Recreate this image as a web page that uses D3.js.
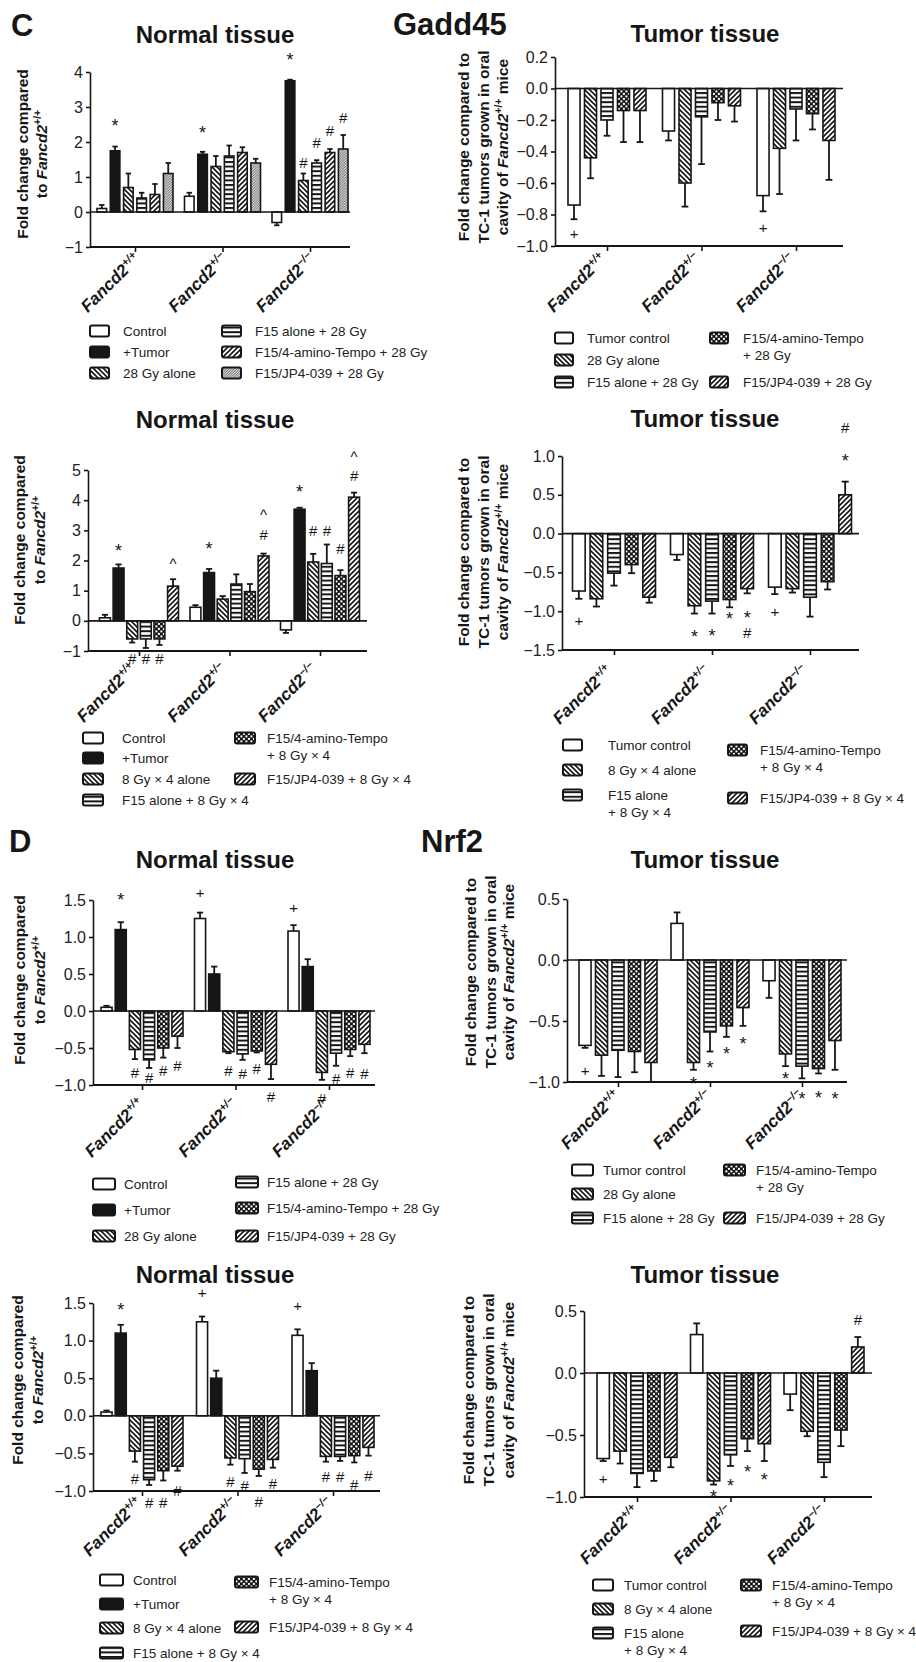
<!DOCTYPE html>
<meta charset="utf-8">
<style>
body { margin:0; background:#fff; }
text { font-family: "Liberation Sans", Arial, sans-serif; fill:#161616; }
.hdr { font-weight:bold; font-size:31px; }
.title { font-weight:bold; font-size:24px; }
.tick text { font-size:16px; fill:#222; }
.tick line, .domain { stroke:#161616; stroke-width:1.6px; }
.ytitle { font-weight:bold; font-size:15.5px; }
.xlab { font-weight:bold; font-style:italic; font-size:17px; }
.leg { font-size:13.5px; fill:#222; }
.ann { font-size:15px; }
</style>
<body>
<svg id="fig" width="916" height="1662"></svg>
<script src="https://cdn.jsdelivr.net/npm/d3@7"></script>
<script>
var genotypes = ["+/+", "+/\u2212", "\u2212/\u2212"];

var normal28Series = ["Control", "+Tumor", "28 Gy alone", "F15 alone + 28 Gy", "F15/4-amino-Tempo + 28 Gy", "F15/JP4-039 + 28 Gy"];
var tumor28Series = ["Tumor control", "28 Gy alone", "F15 alone + 28 Gy", "F15/4-amino-Tempo + 28 Gy", "F15/JP4-039 + 28 Gy"];
var normalFxSeries = ["Control", "+Tumor", "8 Gy \u00d7 4 alone", "F15 alone + 8 Gy \u00d7 4", "F15/4-amino-Tempo + 8 Gy \u00d7 4", "F15/JP4-039 + 8 Gy \u00d7 4"];
var tumorFxSeries = ["Tumor control", "8 Gy \u00d7 4 alone", "F15 alone + 8 Gy \u00d7 4", "F15/4-amino-Tempo + 8 Gy \u00d7 4", "F15/JP4-039 + 8 Gy \u00d7 4"];

// legend wording (line breaks as printed)
var legTumor28 = ["Tumor control", "28 Gy alone", "F15 alone + 28 Gy", "F15/4-amino-Tempo\n+ 28 Gy", "F15/JP4-039 + 28 Gy"];
var legNormalFx = ["Control", "+Tumor", "8 Gy \u00d7 4 alone", "F15 alone + 8 Gy \u00d7 4", "F15/4-amino-Tempo\n+ 8 Gy \u00d7 4", "F15/JP4-039 + 8 Gy \u00d7 4"];
var legTumorFx = ["Tumor control", "8 Gy \u00d7 4 alone", "F15 alone\n+ 8 Gy \u00d7 4", "F15/4-amino-Tempo\n+ 8 Gy \u00d7 4", "F15/JP4-039 + 8 Gy \u00d7 4"];

// ---- Gadd45 ----
var gaddNormal28Mean = [[0.1, 1.75, 0.7, 0.4, 0.5, 1.1], [0.45, 1.65, 1.3, 1.6, 1.7, 1.4], [-0.3, 3.75, 0.9, 1.4, 1.7, 1.8]];
var gaddNormal28Err = [[0.1, 0.12, 0.4, 0.15, 0.3, 0.3], [0.1, 0.07, 0.3, 0.3, 0.15, 0.12], [0.08, 0.03, 0.2, 0.08, 0.1, 0.4]];
var gaddNormal28Ann = [[0, 1, 2.6, "*"], [1, 1, 2.4, "*"], [2, 1, 4.5, "*"], [2, 2, 1.4, "#"], [2, 3, 1.97, "#"], [2, 4, 2.34, "#"], [2, 5, 2.7, "#"]];

var gaddTumor28Mean = [[-0.74, -0.44, -0.2, -0.14, -0.14], [-0.27, -0.6, -0.18, -0.09, -0.11], [-0.68, -0.38, -0.13, -0.16, -0.33]];
var gaddTumor28Err = [[0.09, 0.13, 0.1, 0.2, 0.2], [0.06, 0.15, 0.3, 0.11, 0.1], [0.1, 0.29, 0.2, 0.1, 0.25]];
var gaddTumor28Ann = [[0, 0, -0.92, "+"], [2, 0, -0.88, "+"]];

var gaddNormalFxMean = [[0.1, 1.75, -0.6, -0.6, -0.6, 1.15], [0.45, 1.6, 0.72, 1.22, 0.97, 2.15], [-0.3, 3.7, 1.95, 1.9, 1.5, 4.1]];
var gaddNormalFxErr = [[0.1, 0.12, 0.12, 0.3, 0.2, 0.23], [0.07, 0.12, 0.1, 0.32, 0.25, 0.08], [0.1, 0.05, 0.27, 0.63, 0.18, 0.15]];
var gaddNormalFxAnn = [[0, 1, 2.5, "*"], [0, 2, -1.25, "#"], [0, 3, -1.25, "#"], [0, 4, -1.25, "#"], [0, 5, 2.0, "^"],
  [1, 1, 2.55, "*"], [1, 5, 2.85, "#"], [1, 5, 3.6, "^"],
  [2, 1, 4.45, "*"], [2, 2, 3.0, "#"], [2, 3, 3.0, "#"], [2, 4, 2.4, "#"], [2, 5, 4.8, "#"], [2, 5, 5.55, "^"]];

var gaddTumorFxMean = [[-0.74, -0.84, -0.51, -0.4, -0.82], [-0.27, -0.93, -0.87, -0.85, -0.71], [-0.69, -0.71, -0.82, -0.62, 0.5]];
var gaddTumorFxErr = [[0.1, 0.1, 0.16, 0.11, 0.07], [0.07, 0.1, 0.16, 0.1, 0.06], [0.09, 0.05, 0.25, 0.1, 0.17]];
var gaddTumorFxAnn = [[0, 0, -1.12, "+"], [1, 1, -1.27, "*"], [1, 2, -1.25, "*"], [1, 3, -1.03, "*"], [1, 4, -1.02, "*"], [1, 4, -1.27, "#"],
  [2, 0, -1.0, "+"], [2, 4, 1.0, "*"], [2, 4, 1.37, "#"]];

// ---- Nrf2 ----
var nrfNormal28Mean = [[0.05, 1.1, -0.52, -0.66, -0.5, -0.34], [1.25, 0.5, -0.55, -0.58, -0.54, -0.72], [1.08, 0.6, -0.83, -0.57, -0.52, -0.45]];
var nrfNormal28Err = [[0.02, 0.1, 0.13, 0.11, 0.13, 0.16], [0.08, 0.1, 0.02, 0.08, 0.02, 0.2], [0.08, 0.1, 0.1, 0.17, 0.09, 0.12]];
var nrfNormal28Ann = [[0, 1, 1.57, "*"], [0, 2, -0.83, "#"], [0, 3, -0.9, "#"], [0, 4, -0.8, "#"], [0, 5, -0.74, "#"],
  [1, 0, 1.6, "+"], [1, 2, -0.8, "#"], [1, 3, -0.84, "#"], [1, 4, -0.78, "#"], [1, 5, -1.16, "#"],
  [2, 0, 1.4, "+"], [2, 2, -1.19, "#"], [2, 3, -0.91, "#"], [2, 4, -0.83, "#"], [2, 5, -0.84, "#"]];

var nrfTumor28Mean = [[-0.7, -0.78, -0.74, -0.75, -0.84], [0.3, -0.84, -0.59, -0.54, -0.39], [-0.17, -0.77, -0.87, -0.89, -0.66]];
var nrfTumor28Err = [[0.02, 0.17, 0.22, 0.17, 0.16], [0.09, 0.06, 0.16, 0.09, 0.15], [0.14, 0.1, 0.1, 0.04, 0.24]];
var nrfTumor28Ann = [[0, 0, -0.91, "+"], [1, 1, -0.97, "*"], [1, 2, -0.84, "*"], [1, 3, -0.73, "*"], [1, 4, -0.65, "*"],
  [2, 1, -0.93, "*"], [2, 2, -1.1, "*"], [2, 3, -1.09, "*"], [2, 4, -1.1, "*"]];

var nrfNormalFxMean = [[0.05, 1.1, -0.47, -0.85, -0.73, -0.67], [1.25, 0.5, -0.56, -0.57, -0.71, -0.58], [1.07, 0.6, -0.54, -0.54, -0.53, -0.42]];
var nrfNormalFxErr = [[0.02, 0.11, 0.14, 0.07, 0.13, 0.06], [0.07, 0.1, 0.09, 0.19, 0.09, 0.11], [0.08, 0.1, 0.07, 0.06, 0.09, 0.11]];
var nrfNormalFxAnn = [[0, 1, 1.48, "*"], [0, 2, -0.84, "#"], [0, 3, -1.16, "#"], [0, 4, -1.16, "#"], [0, 5, -1.0, "#"],
  [1, 0, 1.64, "+"], [1, 2, -0.88, "#"], [1, 3, -0.93, "#"], [1, 4, -1.14, "#"], [1, 5, -0.9, "#"],
  [2, 0, 1.46, "+"], [2, 2, -0.81, "#"], [2, 3, -0.81, "#"], [2, 4, -0.91, "#"], [2, 5, -0.79, "#"]];

var nrfTumorFxMean = [[-0.69, -0.63, -0.81, -0.79, -0.68], [0.31, -0.87, -0.66, -0.53, -0.57], [-0.17, -0.47, -0.72, -0.46, 0.21]];
var nrfTumorFxErr = [[0.02, 0.1, 0.11, 0.08, 0.08], [0.09, 0.03, 0.09, 0.1, 0.14], [0.13, 0.04, 0.12, 0.13, 0.08]];
var nrfTumorFxAnn = [[0, 0, -0.85, "+"], [1, 1, -0.96, "*"], [1, 2, -0.87, "*"], [1, 3, -0.76, "*"], [1, 4, -0.82, "*"], [2, 4, 0.43, "#"]];

var ticksA = [-1, 0, 1, 2, 3, 4];
var ticksB = [-1, -0.8, -0.6, -0.4, -0.2, 0, 0.2];
var ticksC = [-1, 0, 1, 2, 3, 4, 5];
var ticksD = [-1.5, -1, -0.5, 0, 0.5, 1];
var ticksE = [-1, -0.5, 0, 0.5, 1, 1.5];
var ticksF = [-1, -0.5, 0, 0.5];

var svg = d3.select("#fig");
var defs = svg.append("defs");

function pat(id, w, h, draw) {
  var p = defs.append("pattern").attr("id", id)
    .attr("patternUnits", "userSpaceOnUse").attr("width", w).attr("height", h);
  p.append("rect").attr("width", w).attr("height", h).attr("fill", "#fff");
  draw(p);
}
pat("back", 5, 5, function(p) {
  p.append("path").attr("d", "M-1,-1L6,6M-1,4L1,6M4,-1L6,1").attr("stroke", "#161616").attr("stroke-width", 1.6);
});
pat("fwd", 5, 5, function(p) {
  p.append("path").attr("d", "M-1,6L6,-1M-1,1L1,-1M4,6L6,4").attr("stroke", "#161616").attr("stroke-width", 1.6);
});
pat("horiz", 5, 4.6, function(p) {
  p.append("rect").attr("width", 5).attr("height", 2).attr("fill", "#161616");
});
pat("check", 5, 5, function(p) {
  p.append("rect").attr("width", 5).attr("height", 5).attr("fill", "#161616");
  p.append("rect").attr("x", 0.4).attr("y", 0.4).attr("width", 2).attr("height", 2).attr("fill", "#fff");
  p.append("rect").attr("x", 2.9).attr("y", 2.9).attr("width", 2).attr("height", 2).attr("fill", "#fff");
});
pat("fine", 2.6, 2.6, function(p) {
  p.append("path").attr("d", "M-1,3.6L3.6,-1M-1,1L1,-1M1.6,3.6L3.6,1.6").attr("stroke", "#555").attr("stroke-width", 0.9);
});

function fillOf(f) {
  if (f == "white") return "#fff";
  if (f == "black") return "#161616";
  return "url(#" + f + ")";
}

// pieces: [text, kind] with kind "" | "i" | "s" (superscript)
function richText(sel, pieces, supSize) {
  var back = 0;
  pieces.forEach(function(pc) {
    var t = sel.append("tspan").text(pc[0]);
    if (pc[1] == "i") t.style("font-style", "italic");
    if (pc[1] == "s") { t.attr("dy", -6).style("font-size", supSize + "px"); back = 6; }
    else if (back) { t.attr("dy", back); back = 0; }
  });
}

var fmtInt = d3.format("d"), fmt1 = d3.format(".1f");

function drawPanel(p) {
  var g = svg.append("g");
  var y = d3.scaleLinear().domain(p.domain).range(p.yRange);
  var x0 = d3.scalePoint().domain(genotypes).range(p.centers);
  var x1 = d3.scaleBand().domain(p.series).range([-p.groupW / 2, p.groupW / 2]).paddingInner(p.pad);
  var bw = x1.bandwidth();
  var yBase = y(p.domain[0]);

  var rows = [];
  p.mean.forEach(function(r, gi) {
    r.forEach(function(v, si) {
      rows.push({ g: genotypes[gi], s: p.series[si], v: v, e: p.err[gi][si], f: p.fills[si] });
    });
  });
  function tip(d) { return y(d.v + (d.v < 0 ? -d.e : d.e)); }

  // error bars (one-sided, away from zero)
  var eb = g.selectAll(".eb").data(rows).enter().append("g").attr("class", "eb")
    .attr("stroke", "#161616").attr("stroke-width", 1.8);
  eb.append("line")
    .attr("x1", function(d) { return x0(d.g) + x1(d.s) + bw / 2; })
    .attr("x2", function(d) { return x0(d.g) + x1(d.s) + bw / 2; })
    .attr("y1", function(d) { return y(d.v); })
    .attr("y2", tip);
  eb.append("line")
    .attr("x1", function(d) { return x0(d.g) + x1(d.s) + bw * 0.22; })
    .attr("x2", function(d) { return x0(d.g) + x1(d.s) + bw * 0.78; })
    .attr("y1", tip)
    .attr("y2", tip);

  g.selectAll(".bar").data(rows).enter().append("rect").attr("class", "bar")
    .attr("x", function(d) { return x0(d.g) + x1(d.s); })
    .attr("width", bw)
    .attr("y", function(d) { return y(Math.max(0, d.v)); })
    .attr("height", function(d) { return Math.abs(y(d.v) - y(0)); })
    .attr("fill", function(d) { return fillOf(d.f); })
    .attr("stroke", "#161616").attr("stroke-width", 1.6);

  // zero line and x axis
  g.append("line").attr("x1", p.left).attr("x2", p.right).attr("y1", y(0)).attr("y2", y(0))
    .attr("stroke", "#161616").attr("stroke-width", 1.6);
  g.append("line").attr("x1", p.left).attr("x2", p.right).attr("y1", yBase).attr("y2", yBase)
    .attr("stroke", "#161616").attr("stroke-width", 1.8);
  g.append("g").attr("transform", "translate(0," + yBase + ")")
    .call(d3.axisBottom(x0).tickSize(5).tickFormat(""))
    .select(".domain").remove();

  g.append("g").attr("transform", "translate(" + p.left + ",0)")
    .call(d3.axisLeft(y).tickValues(p.ticks).tickFormat(p.fmt).tickSize(4).tickSizeOuter(0).tickPadding(3));

  // significance marks
  g.selectAll(".ann").data(p.ann).enter().append("text").attr("class", "ann")
    .attr("text-anchor", "middle")
    .attr("x", function(d) { return x0(genotypes[d[0]]) + x1(p.series[d[1]]) + bw / 2; })
    .attr("y", function(d) { return y(d[2]); })
    .attr("dy", function(d) { return d[3] == "*" ? "0.62em" : d[3] == "^" ? "0.55em" : "0.36em"; })
    .style("font-size", function(d) { return d[3] == "*" ? "18px" : "15px"; })
    .text(function(d) { return d[3]; });

  // rotated genotype labels
  genotypes.forEach(function(gt) {
    var t = g.append("text").attr("class", "xlab").attr("text-anchor", "end")
      .attr("transform", "translate(" + (x0(gt) + p.lab[0]) + "," + (yBase + p.lab[1]) + ") rotate(-45)");
    richText(t, [["Fancd2", ""], [gt, "s"]], 11);
  });

  g.append("text").attr("class", "title").attr("text-anchor", "middle")
    .attr("x", p.titleX).attr("y", p.titleY).text(p.title);

  p.yTitle.forEach(function(line, i) {
    var t = g.append("text").attr("class", "ytitle").attr("text-anchor", "middle")
      .attr("transform", "translate(" + (p.yTitleX[i] + 5.5) + "," + p.yTitleCY + ") rotate(-90)");
    richText(t, line, 10.5);
  });

  // legend
  p.legend.forEach(function(it, i) {
    var sx = p.legCols[it[0]][0], tx = p.legCols[it[0]][1], ry = it[1];
    g.append("rect").attr("x", sx).attr("y", ry - 5.5).attr("width", p.swW).attr("height", 11).attr("rx", 2)
      .attr("fill", fillOf(p.fills[i])).attr("stroke", "#161616").attr("stroke-width", 2);
    p.legText[i].split("\n").forEach(function(s, k) {
      g.append("text").attr("class", "leg").attr("x", tx).attr("y", ry + 5 + k * 16.5).text(s);
    });
  });
}

var fillsN28 = ["white", "black", "back", "horiz", "fwd", "fine"];
var fillsN = ["white", "black", "back", "horiz", "check", "fwd"];
var fillsT = ["white", "back", "horiz", "check", "fwd"];
var yNormal = [[["Fold change compared", ""]], [["to ", ""], ["Fancd2", "i"], ["+/+", "s"]]];
var yTumor = [[["Fold change compared to", ""]], [["TC-1 tumors grown in oral", ""]],
  [["cavity of ", ""], ["Fancd2", "i"], ["+/+", "s"], [" mice", ""]]];

var panels = [
  { series: normal28Series, mean: gaddNormal28Mean, err: gaddNormal28Err, ann: gaddNormal28Ann, fills: fillsN28,
    domain: [-1, 4], yRange: [247, 72], ticks: ticksA, fmt: fmtInt, left: 90, right: 350,
    centers: [135, 310], groupW: 76, pad: 0.28, lab: [6, 13], title: "Normal tissue", titleX: 215, titleY: 43,
    yTitle: yNormal, yTitleX: [22, 41], yTitleCY: 154,
    legText: normal28Series, legCols: [[90, 123], [222, 255]], swW: 19,
    legend: [[0, 331], [0, 352], [0, 373], [1, 331], [1, 352], [1, 373]] },
  { series: tumor28Series, mean: gaddTumor28Mean, err: gaddTumor28Err, ann: gaddTumor28Ann, fills: fillsT,
    domain: [-1, 0.2], yRange: [246, 57], ticks: ticksB, fmt: fmt1, left: 555, right: 843,
    centers: [607, 796], groupW: 78, pad: 0.27, lab: [0, 14], title: "Tumor tissue", titleX: 705, titleY: 42,
    yTitle: yTumor, yTitleX: [463, 483, 502], yTitleCY: 147,
    legText: legTumor28, legCols: [[555, 587], [710, 743]], swW: 18,
    legend: [[0, 338], [0, 360], [0, 382], [1, 338], [1, 382]] },
  { series: normalFxSeries, mean: gaddNormalFxMean, err: gaddNormalFxErr, ann: gaddNormalFxAnn, fills: fillsN,
    domain: [-1, 5], yRange: [651, 470], ticks: ticksC, fmt: fmtInt, left: 88, right: 367,
    centers: [139, 320], groupW: 79, pad: 0.2, lab: [-2, 19], title: "Normal tissue", titleX: 215, titleY: 428,
    yTitle: yNormal, yTitleX: [19, 39], yTitleCY: 540,
    legText: legNormalFx, legCols: [[83, 122], [235, 267]], swW: 20,
    legend: [[0, 738], [0, 758], [0, 779], [0, 800], [1, 738], [1, 779]] },
  { series: tumorFxSeries, mean: gaddTumorFxMean, err: gaddTumorFxErr, ann: gaddTumorFxAnn, fills: fillsT,
    domain: [-1.5, 1], yRange: [650, 456], ticks: ticksD, fmt: fmt1, left: 562, right: 859,
    centers: [614, 810], groupW: 83, pad: 0.28, lab: [-1, 22], title: "Tumor tissue", titleX: 705, titleY: 427,
    yTitle: yTumor, yTitleX: [463, 483, 502], yTitleCY: 552,
    legText: legTumorFx, legCols: [[563, 608], [728, 760]], swW: 19,
    legend: [[0, 745], [0, 770], [0, 795], [1, 750], [1, 798]] },
  { series: normal28Series, mean: nrfNormal28Mean, err: nrfNormal28Err, ann: nrfNormal28Ann, fills: fillsN,
    domain: [-1, 1.5], yRange: [1085, 900], ticks: ticksE, fmt: fmt1, left: 93, right: 375,
    centers: [142, 329], groupW: 82, pad: 0.22, lab: [3, 20], title: "Normal tissue", titleX: 215, titleY: 868,
    yTitle: yNormal, yTitleX: [19, 39], yTitleCY: 980,
    legText: normal28Series, legCols: [[93, 124], [236, 267]], swW: 22,
    legend: [[0, 1184], [0, 1210], [0, 1236], [1, 1182], [1, 1208], [1, 1236]] },
  { series: tumor28Series, mean: nrfTumor28Mean, err: nrfTumor28Err, ann: nrfTumor28Ann, fills: fillsT,
    domain: [-1, 0.5], yRange: [1082, 899], ticks: ticksF, fmt: fmt1, left: 567, right: 847,
    centers: [618, 802], groupW: 78, pad: 0.27, lab: [3, 15], title: "Tumor tissue", titleX: 705, titleY: 868,
    yTitle: yTumor, yTitleX: [470, 490, 508], yTitleCY: 972,
    legText: legTumor28, legCols: [[572, 603], [724, 756]], swW: 21,
    legend: [[0, 1170], [0, 1194], [0, 1218], [1, 1170], [1, 1218]] },
  { series: normalFxSeries, mean: nrfNormalFxMean, err: nrfNormalFxErr, ann: nrfNormalFxAnn, fills: fillsN,
    domain: [-1, 1.5], yRange: [1491, 1303], ticks: ticksE, fmt: fmt1, left: 93, right: 380,
    centers: [142, 333], groupW: 82, pad: 0.22, lab: [1, 13], title: "Normal tissue", titleX: 215, titleY: 1283,
    yTitle: yNormal, yTitleX: [17, 37], yTitleCY: 1380,
    legText: legNormalFx, legCols: [[100, 133], [235, 269]], swW: 23,
    legend: [[0, 1580], [0, 1604], [0, 1628], [0, 1653], [1, 1582], [1, 1627]] },
  { series: tumorFxSeries, mean: nrfTumorFxMean, err: nrfTumorFxErr, ann: nrfTumorFxAnn, fills: fillsT,
    domain: [-1, 0.5], yRange: [1497, 1311], ticks: ticksF, fmt: fmt1, left: 584, right: 872,
    centers: [637, 824], groupW: 80, pad: 0.27, lab: [3, 15], title: "Tumor tissue", titleX: 705, titleY: 1283,
    yTitle: yTumor, yTitleX: [468, 488, 508], yTitleCY: 1390,
    legText: legTumorFx, legCols: [[593, 624], [741, 772]], swW: 20,
    legend: [[0, 1585], [0, 1609], [0, 1633], [1, 1585], [1, 1631]] }
];

panels.forEach(drawPanel);

// figure letters and gene names
svg.append("text").attr("class", "hdr").attr("x", 11).attr("y", 36).text("C");
svg.append("text").attr("class", "hdr").attr("x", 393).attr("y", 35).text("Gadd45");
svg.append("text").attr("class", "hdr").attr("x", 9).attr("y", 852).text("D");
svg.append("text").attr("class", "hdr").attr("x", 421).attr("y", 852).text("Nrf2");
</script>
</body>
</html>
